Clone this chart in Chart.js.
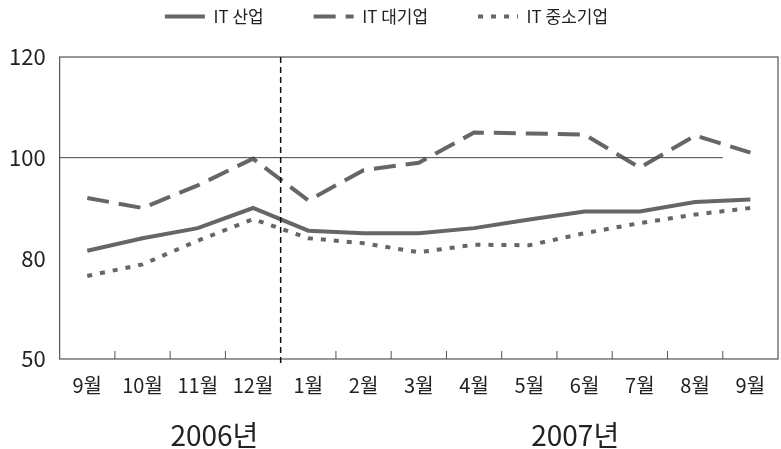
<!DOCTYPE html>
<html>
<head>
<meta charset="utf-8">
<script src="https://cdn.jsdelivr.net/npm/chart.js@4"></script>
<style>
    html, body { margin: 0; padding: 0; background: #fff; }
    #wrap { width: 781px; height: 449px; }
</style>
</head>
<body>
<div id="wrap"><canvas id="grafico"></canvas></div>
<script>
const meses = ["9월", "10월", "11월", "12월", "1월", "2월", "3월", "4월", "5월", "6월", "7월", "8월", "9월"];
const anos = ["2006년", "2007년"];
const itIndustria = [81.5, 84, 86, 90, 85.5, 85, 85, 86, 87.7, 89.3, 89.3, 91.2, 91.7];
const itGrandes = [92, 90, 94.5, 99.8, 91.5, 97.5, 99, 105, 104.8, 104.6, 98, 104.4, 101];
const itPequenas = [76.5, 78.8, 83.5, 87.8, 84, 83, 81.2, 82.7, 82.6, 85, 87, 88.7, 90];
const yTicks = [60, 80, 100, 120];
const yTickLabels = ["50", "80", "100", "120"];
const linhaBase = 100;

const fonte = "'Noto Sans CJK KR', 'Noto Sans', sans-serif";

const molduraPlugin = {
    id: 'moldura',
    afterDraw(chart) {
        const { ctx, chartArea: a, scales: { x, y } } = chart;
        const meio = i => (x.getPixelForValue(i) + x.getPixelForValue(i + 1)) / 2;
        ctx.save();

        // linha de referencia 100
        ctx.strokeStyle = '#444';
        ctx.lineWidth = 1;
        ctx.beginPath();
        ctx.moveTo(a.left, y.getPixelForValue(linhaBase));
        ctx.lineTo(meio(11), y.getPixelForValue(linhaBase));
        ctx.stroke();

        // moldura
        ctx.strokeStyle = '#555';
        ctx.lineWidth = 1.2;
        ctx.strokeRect(a.left, a.top, a.right - a.left, a.bottom - a.top);

        // marcas internas do eixo x
        ctx.lineWidth = 1;
        for (let i = 0; i < meses.length - 1; i++) {
            if (i === 3) continue;
            ctx.beginPath();
            ctx.moveTo(meio(i), a.bottom);
            ctx.lineTo(meio(i), a.bottom - 8);
            ctx.stroke();
        }

        // divisao de ano
        ctx.strokeStyle = '#111';
        ctx.lineWidth = 1.5;
        ctx.setLineDash([6, 4]);
        ctx.beginPath();
        ctx.moveTo(meio(3), a.top);
        ctx.lineTo(meio(3), a.bottom + 7);
        ctx.stroke();
        ctx.setLineDash([]);

        // anos
        ctx.fillStyle = '#222';
        ctx.font = '28px ' + fonte;
        ctx.textAlign = 'center';
        ctx.textBaseline = 'middle';
        ctx.fillText(anos[0], x.getPixelForValue(2.3), 435);
        ctx.fillText(anos[1], x.getPixelForValue(8.83), 435);
        ctx.restore();
    }
};

function serie(label, data, dash) {
    return {
        label,
        data,
        borderColor: '#666',
        backgroundColor: '#666',
        borderWidth: 4,
        borderDash: dash,
        pointRadius: 0,
        pointStyle: 'line',
        tension: 0,
        fill: false
    };
}

new Chart(document.getElementById('grafico').getContext('2d'), {
    type: 'line',
    data: {
        labels: meses,
        datasets: [
            serie('IT 산업', itIndustria, []),
            serie('IT 대기업', itGrandes, [22, 10]),
            serie('IT 중소기업', itPequenas, [5, 8])
        ]
    },
    options: {
        responsive: true,
        maintainAspectRatio: false,
        animation: false,
        layout: {
            padding: { top: -42, right: 3, bottom: 38, left: -5 }
        },
        plugins: {
            legend: {
                display: true,
                position: 'top',
                labels: {
                    usePointStyle: true,
                    pointStyle: 'line',
                    pointStyleWidth: 40,
                    color: '#222',
                    font: { family: fonte, size: 17 },
                    padding: 50,
                    generateLabels: function (chart) {
                        const itens = Chart.defaults.plugins.legend.labels.generateLabels(chart);
                        itens.forEach(item => {
                            item.lineDash = chart.data.datasets[item.datasetIndex].borderDash;
                        });
                        return itens;
                    }
                }
            },
            tooltip: { enabled: false }
        },
        scales: {
            x: {
                offset: true,
                grid: { display: false, drawTicks: false },
                border: { display: false },
                ticks: {
                    color: '#222',
                    font: { family: fonte, size: 20 },
                    padding: 14,
                    maxRotation: 0,
                    autoSkip: false
                }
            },
            espaco: {
                type: 'category',
                position: 'top',
                grid: { display: false, drawTicks: false },
                border: { display: false },
                ticks: { display: false },
                afterFit: function (scale) {
                    scale.height = 22;
                }
            },
            y: {
                min: 60,
                max: 120,
                grid: { display: false, drawTicks: false },
                border: { display: false },
                afterBuildTicks: function (axis) {
                    axis.ticks = yTicks.map(v => ({ value: v }));
                },
                ticks: {
                    color: '#222',
                    font: { family: fonte, size: 22 },
                    padding: 14,
                    callback: function (value) {
                        return yTickLabels[yTicks.indexOf(value)];
                    }
                }
            }
        }
    },
    plugins: [molduraPlugin]
});
</script>
</body>
</html>
